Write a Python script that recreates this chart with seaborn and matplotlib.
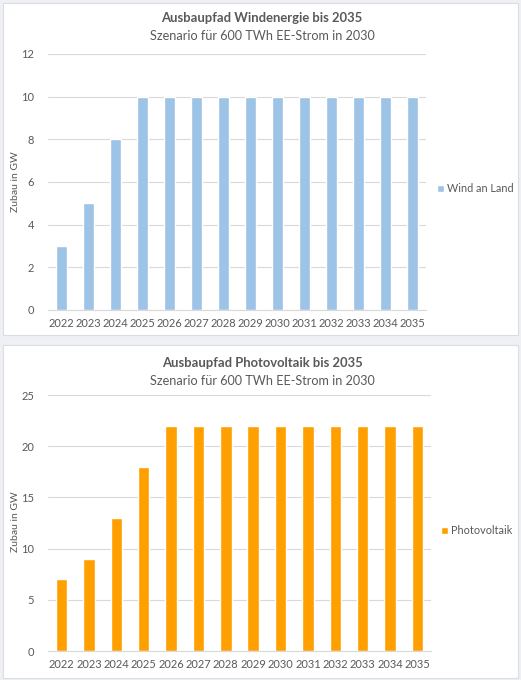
import pandas as pd
import matplotlib.pyplot as plt
import seaborn as sns
from matplotlib.patches import Rectangle

# Data
years = [str(y) for y in range(2022, 2036)]
wind_values = [3, 5, 8, 10, 10, 10, 10, 10, 10, 10, 10, 10, 10, 10]
pv_values = [7, 9, 13, 18, 22, 22, 22, 22, 22, 22, 22, 22, 22, 22]

wind_title = "Ausbaupfad Windenergie bis 2035"
pv_title = "Ausbaupfad Photovoltaik bis 2035"
subtitle = "Szenario für 600 TWh EE-Strom in 2030"
ylabel = "Zubau in GW"

sns.set_theme(style="white")
plt.rcParams['font.family'] = ['Lato', 'DejaVu Sans']

text_grey = "#595959"
grid_grey = "#D9D9D9"

fig = plt.figure(figsize=(5.21, 6.80), dpi=100)
fig.patch.set_facecolor("#EEF0F3")

# white chart boxes like Excel charts
for y0, h in [(345 / 680, 332 / 680), (2 / 680, 333 / 680)]:
    fig.patches.append(Rectangle((3 / 521, y0), 515 / 521, h, transform=fig.transFigure,
                                 facecolor="white", edgecolor="#DADDE2", linewidth=0.8,
                                 zorder=-10))


def draw_panel(rect, values, color, label, title, ymax, ystep, title_y, legend_pos, ylabel_y):
    ax = fig.add_axes(rect)
    ax.set_zorder(2)
    ax.set_facecolor("none")
    df = pd.DataFrame({"Jahr": years, "Zubau": values})
    sns.barplot(data=df, x="Jahr", y="Zubau", color=color, width=0.42,
                saturation=1, label=label, ax=ax, zorder=3)
    ax.set_ylim(0, ymax)
    ax.set_yticks(range(0, ymax + 1, ystep))
    ax.set_xlim(-0.5, len(years) - 0.5)
    ax.grid(axis="y", color=grid_grey, linewidth=0.8, zorder=0)
    for s in ["top", "right", "left"]:
        ax.spines[s].set_visible(False)
    ax.spines["bottom"].set_color(grid_grey)
    ax.spines["bottom"].set_linewidth(0.8)
    ax.tick_params(axis="both", colors=text_grey, labelsize=8, length=0, pad=6)
    ax.tick_params(axis="y", pad=10)
    ax.set_xlabel("")
    ax.set_ylabel("")
    fig.text(16 / 521, ylabel_y, ylabel, rotation=90, ha="center", va="center",
             fontsize=7.5, color=text_grey)
    fig.text(262 / 521, title_y, title, ha="center", va="center",
             fontsize=9.4, fontweight="bold", color=text_grey)
    fig.text(262 / 521, title_y - 18 / 680, subtitle, ha="center", va="center",
             fontsize=9.1, color=text_grey)
    ax.legend(loc="center left", bbox_to_anchor=legend_pos, bbox_transform=fig.transFigure,
              frameon=False, fontsize=7.8, labelcolor=text_grey, handlelength=0.6,
              handleheight=0.6, handletextpad=0.35, borderpad=0, borderaxespad=0)
    return ax


draw_panel([48 / 521, 1 - 310 / 680, 378 / 521, 256 / 680], wind_values, "#9DC3E6",
           "Wind an Land", wind_title, 12, 2, 1 - 18 / 680, (437 / 521, 1 - 189 / 680), 1 - 182 / 680)
draw_panel([48 / 521, 1 - 651 / 680, 383 / 521, 256 / 680], pv_values, "#FFA000",
           "Photovoltaik", pv_title, 25, 5, 1 - 363 / 680, (441 / 521, 1 - 531 / 680), 1 - 522 / 680)

fig.savefig("out.png", dpi=100, facecolor=fig.get_facecolor())
